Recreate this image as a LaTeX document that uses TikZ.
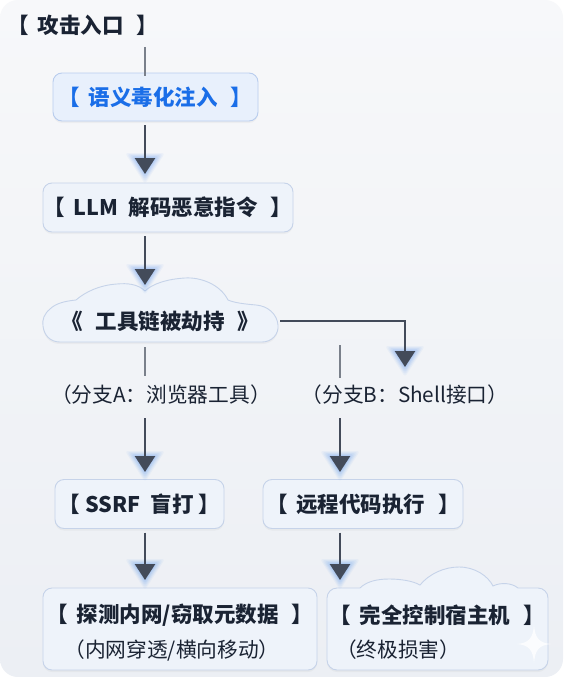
\documentclass[tikz,border=0pt]{standalone}
\usepackage{fontspec}
\setmainfont{Noto Sans CJK SC}
\usetikzlibrary{arrows.meta,calc,shadows}
\definecolor{ink}{HTML}{1A2333}
\definecolor{blueink}{HTML}{1A6EE8}
\definecolor{boxfill}{HTML}{EEF3FA}
\definecolor{boxline}{HTML}{C6D3E9}
\definecolor{boxonefill}{HTML}{E8F0FC}
\definecolor{boxoneline}{HTML}{B9CDEE}
\definecolor{arrowc}{HTML}{434B5A}
\definecolor{thinc}{HTML}{7A808B}
\definecolor{glowblue}{HTML}{6A9FF0}
\definecolor{bgtop}{HTML}{F7F8FA}
\definecolor{bgbot}{HTML}{ECEFF4}
\newcommand\Lbk{【\hspace{0.4em}}
\newcommand\Rbk{\hspace{0.6em}】}
\newcommand\wgap{\hspace{0.5em}}
\newcommand\glowtip[1]{%
  \begin{scope}[shift={(#1)}]
    \foreach \e/\o in {10/0.07,8/0.09,6/0.11,4/0.13,2/0.15}{%
      \fill[glowblue,opacity=\o,rounded corners=3pt] (-10-\e,-16-0.5*\e) -- (10+\e,-16-0.5*\e) -- (0,\e) -- cycle;}
  \end{scope}}
\begin{document}
\begin{tikzpicture}[x=1pt,y=-1pt,
  every node/.style={inner sep=0pt, outer sep=0pt},
  lbl/.style={font=\fontsize{21.5pt}{25pt}\selectfont\bfseries, text=ink},
  sub/.style={font=\fontsize{20.7pt}{24pt}\selectfont, text=ink},
  card/.style={draw=boxline, fill=boxfill, line width=0.9pt, rounded corners=9pt,
    drop shadow={opacity=0.07, shadow xshift=0pt, shadow yshift=-2pt}},
  arr/.style={draw=arrowc, line width=2.7pt, -{Triangle[width=20pt,length=16pt]}},
  thinline/.style={draw=thinc, line width=1.8pt},
]
\useasboundingbox (0,0) rectangle (563,677);
\fill[white] (0,0) rectangle (563,677);
\shade[top color=bgtop, bottom color=bgbot, rounded corners=18pt] (0,0) rectangle (563,677);

% column coordinates
\coordinate (colA) at (145,0);
\coordinate (colB) at (340,0);

% title and first boxes
\node[lbl] (title) at (83,25) {\Lbk 攻击入口\Rbk};
\node[card, lbl, text=blueink, fill=boxonefill, draw=boxoneline,
      minimum width=205pt, minimum height=48pt] (inject) at (155.5,97) {\Lbk 语义毒化注入\Rbk};
\node[card, lbl, minimum width=250pt, minimum height=49pt] (decode) at (168,207.5) {\Lbk LLM\wgap 解码恶意指令\Rbk};

% cloud
\path[card, rounded corners=0pt] (60,342) -- (262,342)
  .. controls (272,342) and (279,334) .. (278,325)
  .. controls (277,314) and (268,306) .. (256,305)
  .. controls (245,304) and (235,303) .. (228,300)
  .. controls (220,284) and (200,277) .. (185,278)
  .. controls (167,279) and (152,284) .. (145,291)
  .. controls (138,284) and (127,283) .. (117,284)
  .. controls (100,285) and (85,292) .. (76,300)
  .. controls (66,301) and (56,303) .. (50,309)
  .. controls (44,314) and (42,320) .. (43,326)
  .. controls (44,335) and (50,342) .. (60,342) -- cycle;
\node[lbl] (hijack) at (160,321) {《\hspace{0.6em}工具链被劫持\hspace{0.6em}》};

% branch labels
\node[sub] (brA) at (161,395) {（分支A：浏览器工具）};
\node[sub] (brB) at (405,395) {（分支B：Shell接口）};

% second level boxes
\node[card, lbl, minimum width=169pt, minimum height=49pt] (ssrf) at (139.5,504) {【 SSRF\wgap 盲打 】};
\node[card, lbl, minimum width=200pt, minimum height=49pt] (rce) at (363,504) {\Lbk 远程代码执行\Rbk};

% bottom left box
\node[card, minimum width=274pt, minimum height=82pt] (probe) at (180,629) {};
\node[lbl] (probeT) at (180,615) {\Lbk 探测内网/窃取元数据\Rbk};
\node[sub] (probeS) at (172,650) {（内网穿透/横向移动）};

% bottom right cloud box
\path[card, rounded corners=0pt] (337,588) -- (360,588)
  .. controls (366,582) and (376,579) .. (389,579)
  .. controls (401,579) and (413,581) .. (420,585)
  .. controls (429,574) and (444,567) .. (459,567)
  .. controls (475,567) and (488,576) .. (493,586)
  .. controls (501,582) and (512,583) .. (518,588)
  -- (538,588) .. controls (543.5,588) and (548,592.5) .. (548,598)
  -- (548,660) .. controls (548,665.5) and (543.5,670) .. (538,670)
  -- (337,670) .. controls (331.5,670) and (327,665.5) .. (327,660)
  -- (327,598) .. controls (327,592.5) and (331.5,588) .. (337,588) -- cycle;
\node[lbl] (ctrlT) at (437,615) {\Lbk 完全控制宿主机\Rbk};
\node[sub, anchor=west] (ctrlS) at (336,650) {（终极损害）};
% faint sparkle
\fill[white, opacity=0.8] (534,625) .. controls (535,638) and (539,643) .. (551,644)
  .. controls (539,645) and (535,650) .. (534,663)
  .. controls (533,650) and (529,645) .. (517,644)
  .. controls (529,643) and (533,638) .. (534,625) -- cycle;

% connectors
\coordinate (s0) at (145,47);
\draw[thinline] (s0) -- ([yshift=-3pt]inject.north -| colA);

\coordinate (t1) at (145,174);
\glowtip{t1}
\draw[arr] ([yshift=-4pt]inject.south -| colA) -- (t1);

\coordinate (t2) at (145,285);
\glowtip{t2}
\draw[arr] ([yshift=-4pt]decode.south -| colA) -- (t2);

\coordinate (cE) at (280,321);
\coordinate (t3) at (405,367);
\glowtip{t3}
\draw[arr] (cE) -| (t3);

\coordinate (a1) at (145,347);
\coordinate (a2) at (145,376);
\draw[thinline] (a1) -- (a2);
\coordinate (b1) at (340,345);
\coordinate (b2) at (340,378);
\draw[thinline] (b1) -- (b2);

\coordinate (a3) at (145,418);
\coordinate (t4) at (145,472);
\glowtip{t4}
\draw[arr] (a3) -- (t4);
\coordinate (b3) at (340,418);
\coordinate (t5) at (340,472);
\glowtip{t5}
\draw[arr] (b3) -- (t5);

\coordinate (t6) at (145,580);
\glowtip{t6}
\draw[arr] ([yshift=-4pt]ssrf.south -| colA) -- (t6);
\coordinate (t7) at (340,580);
\glowtip{t7}
\draw[arr] ([yshift=-4pt]rce.south -| colB) -- (t7);
\end{tikzpicture}
\end{document}
